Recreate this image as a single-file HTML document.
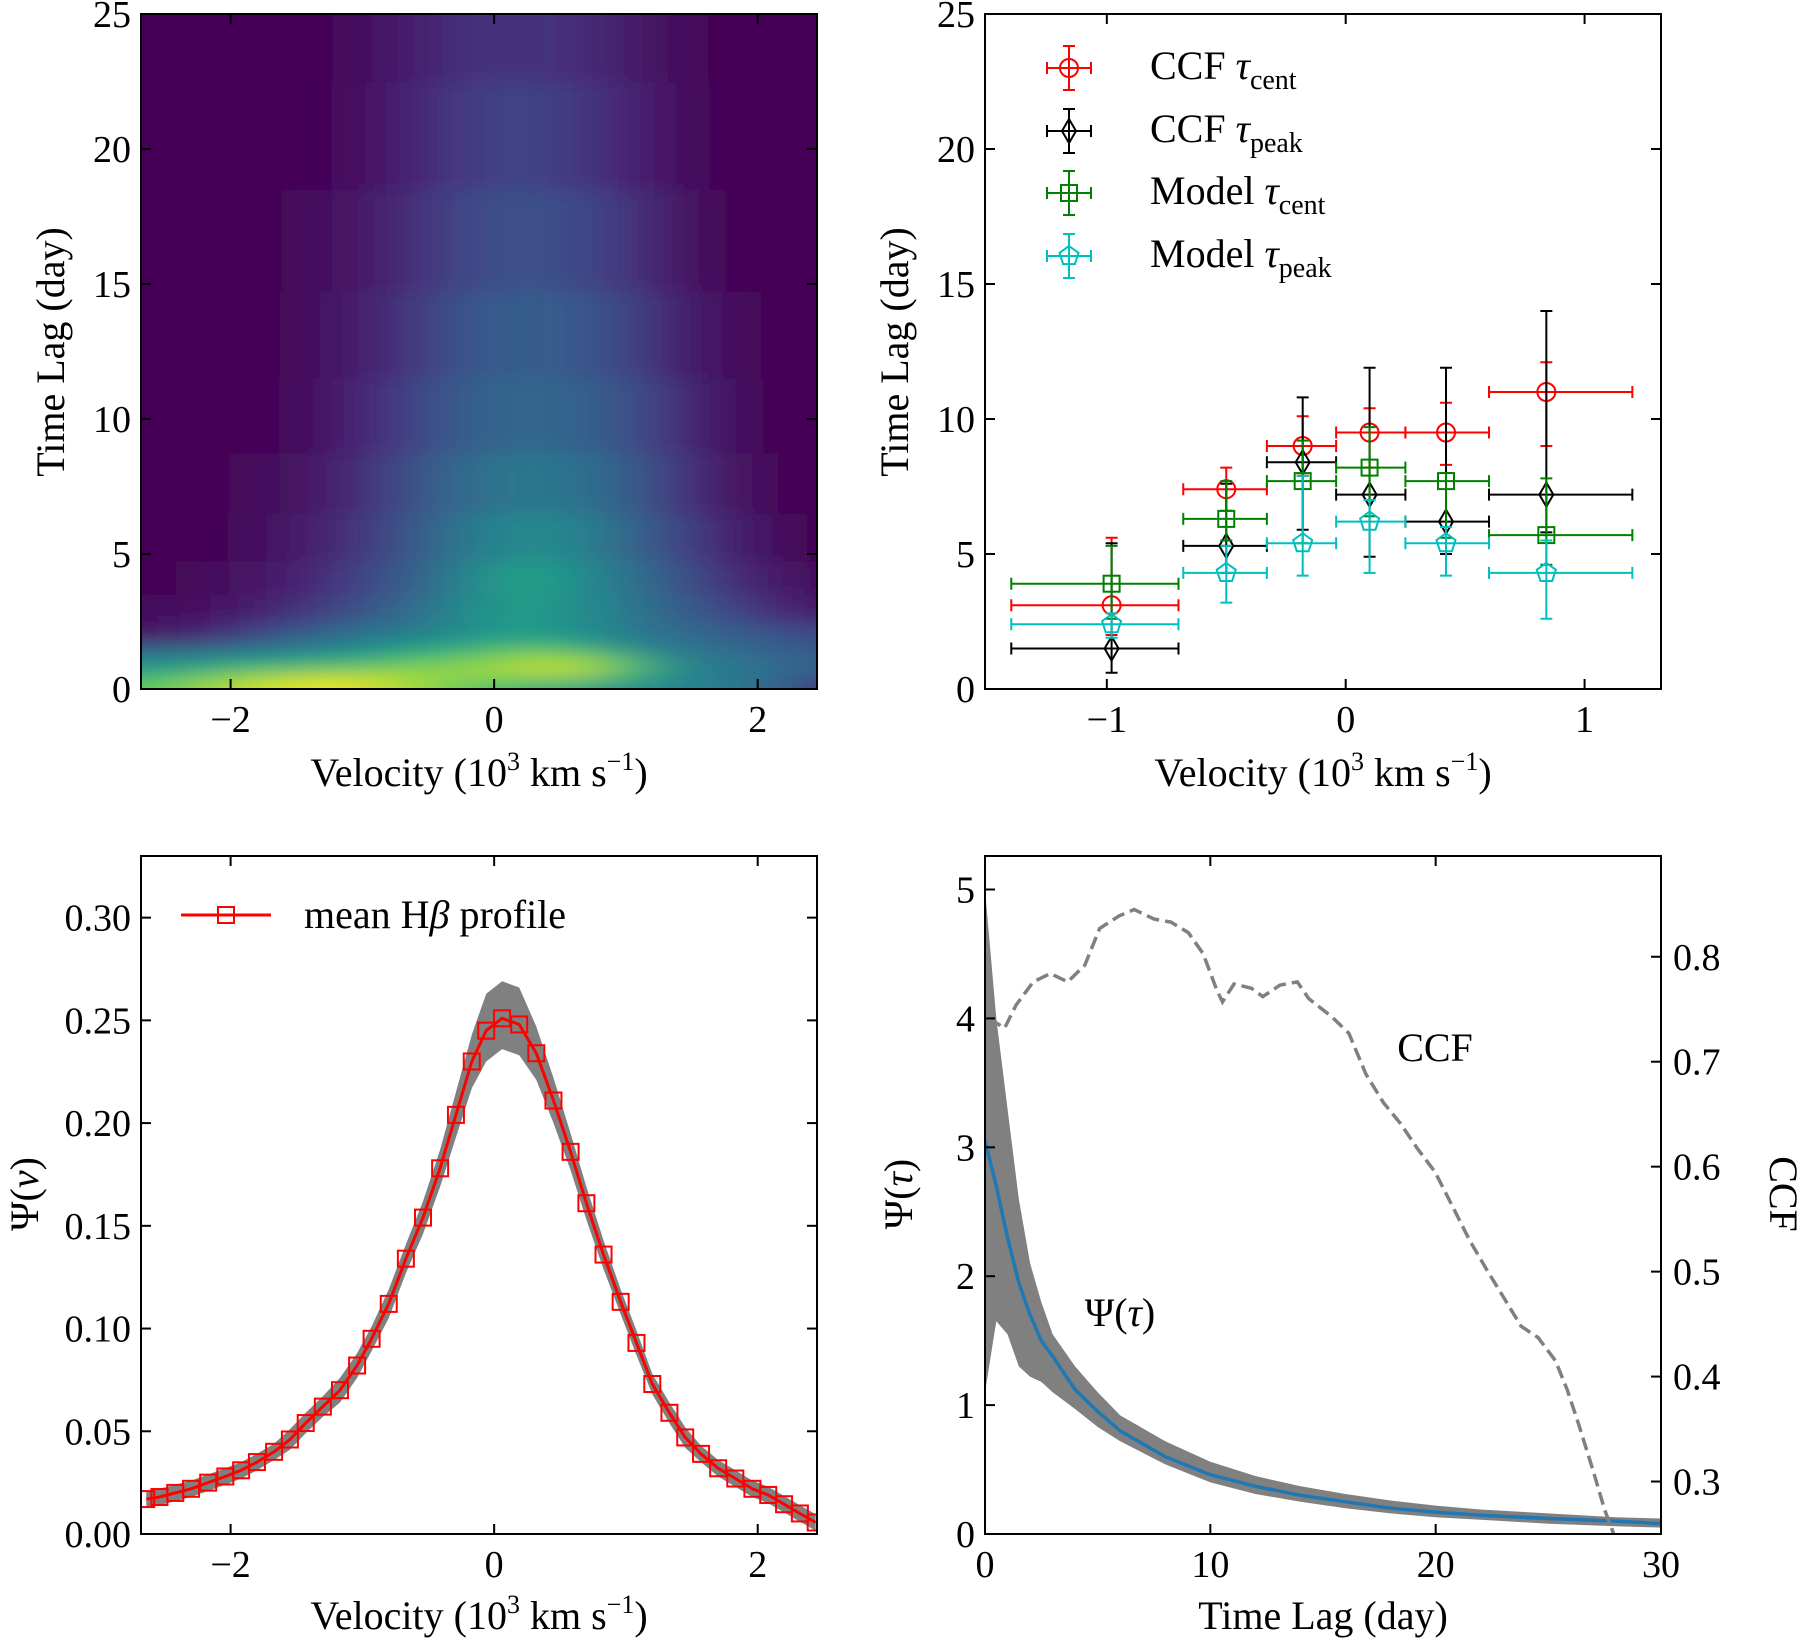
<!DOCTYPE html>
<html><head><meta charset="utf-8"><style>
body{margin:0;background:#fff}
svg{display:block}
text{font-family:"Liberation Serif",serif;fill:#000}
.tk{font-size:38px}
.lb{font-size:40px}
</style></head><body>
<svg id="fig" xmlns="http://www.w3.org/2000/svg" width="1800" height="1641" viewBox="0 0 1800 1641">
<defs>
<clipPath id="c1"><rect x="141" y="14" width="676" height="675"/></clipPath>
<clipPath id="c2"><rect x="985" y="14" width="676" height="675"/></clipPath>
<clipPath id="c3"><rect x="141" y="856" width="676" height="678"/></clipPath>
<clipPath id="c4"><rect x="985" y="856" width="676" height="678"/></clipPath>
<filter id="blur" x="-20%" y="-20%" width="140%" height="140%"><feGaussianBlur stdDeviation="30 9"/></filter>
</defs>
<g id="root"></g>
</svg>
<script>
// ---------- data: heatmap (velocity-delay map) ----------
const hmVel=[-2.6,-2.2,-1.8,-1.4,-1.0,-0.6,-0.2,0.2,0.6,1.0,1.4,1.8,2.2,2.45];
const hmLag=[0.2,0.6,1.0,1.4,2.0,3.0,4.0,5.5,7.5,10,13,16.5,20.5,24.5];
const hmVals=[
[0.75,0.85,0.92,0.98,0.95,0.85,0.75,0.65,0.6,0.5,0.45,0.4,0.3,0.15],
[0.6,0.7,0.78,0.82,0.85,0.85,0.85,0.88,0.9,0.7,0.45,0.4,0.35,0.3],
[0.45,0.5,0.55,0.6,0.65,0.75,0.8,0.88,0.9,0.75,0.45,0.4,0.35,0.3],
[0.35,0.38,0.42,0.45,0.5,0.6,0.65,0.75,0.7,0.5,0.4,0.35,0.3,0.28],
[0.05,0.1,0.2,0.3,0.38,0.42,0.5,0.55,0.5,0.42,0.35,0.3,0.25,0.2],
[0.02,0.04,0.08,0.15,0.25,0.35,0.48,0.55,0.5,0.4,0.3,0.2,0.1,0.05],
[0.0,0.02,0.05,0.1,0.2,0.3,0.45,0.58,0.5,0.38,0.25,0.12,0.05,0.02],
[0,0,0.03,0.07,0.15,0.28,0.4,0.48,0.45,0.33,0.2,0.08,0.02,0],
[0,0,0.02,0.05,0.12,0.25,0.35,0.4,0.38,0.3,0.15,0.05,0,0],
[0,0,0,0.03,0.1,0.2,0.3,0.34,0.32,0.25,0.12,0.03,0,0],
[0,0,0,0.02,0.08,0.16,0.27,0.3,0.28,0.2,0.08,0.02,0,0],
[0,0,0,0.02,0.06,0.13,0.22,0.25,0.23,0.15,0.05,0,0,0],
[0,0,0,0.01,0.04,0.1,0.18,0.2,0.17,0.1,0.03,0,0,0],
[0,0,0,0,0.03,0.08,0.14,0.15,0.13,0.07,0.02,0,0,0]];
// ---------- data: lags per velocity bin ----------
const binCenter=[-0.98,-0.5,-0.18,0.1,0.42,0.84];
const binLo=[-1.4,-0.68,-0.33,-0.04,0.25,0.6];
const binHi=[-0.7,-0.33,-0.04,0.25,0.6,1.2];
const ccfCent=[3.1,7.4,9.0,9.5,9.5,11.0];
const ccfCentLo=[2.0,6.6,7.9,8.2,8.3,9.0];
const ccfCentHi=[5.6,8.2,10.1,10.4,10.6,12.1];
const ccfPeak=[1.5,5.3,8.4,7.2,6.2,7.2];
const ccfPeakLo=[0.6,4.3,5.9,4.9,5.0,5.8];
const ccfPeakHi=[5.4,7.6,10.8,11.9,11.9,14.0];
const modCent=[3.9,6.3,7.7,8.2,7.7,5.7];
const modCentLo=[2.6,5.5,5.4,6.4,5.6,4.6];
const modCentHi=[5.3,7.7,9.2,9.7,8.0,7.8];
const modPeak=[2.4,4.3,5.4,6.2,5.4,4.3];
const modPeakLo=[1.9,3.2,4.2,4.3,4.2,2.6];
const modPeakHi=[2.8,5.3,7.9,7.0,6.0,5.5];
// ---------- data: mean profile ----------
const profVel=[-2.64,-2.54,-2.42,-2.3,-2.17,-2.04,-1.92,-1.8,-1.67,-1.55,-1.43,-1.3,-1.17,-1.04,-0.93,-0.8,-0.67,-0.54,-0.41,-0.29,-0.17,-0.06,0.06,0.19,0.32,0.45,0.58,0.7,0.83,0.96,1.08,1.2,1.33,1.45,1.57,1.7,1.83,1.96,2.08,2.2,2.32,2.44];
const profVal=[0.017,0.018,0.020,0.022,0.025,0.028,0.031,0.035,0.040,0.046,0.054,0.062,0.070,0.082,0.095,0.112,0.134,0.154,0.178,0.204,0.23,0.245,0.251,0.248,0.234,0.211,0.186,0.161,0.136,0.113,0.093,0.073,0.059,0.047,0.039,0.032,0.027,0.022,0.019,0.0145,0.010,0.0056];
const profErr=[0.004,0.004,0.004,0.004,0.004,0.004,0.004,0.004,0.004,0.005,0.005,0.005,0.006,0.006,0.006,0.007,0.007,0.008,0.009,0.011,0.013,0.015,0.015,0.015,0.013,0.011,0.009,0.008,0.007,0.006,0.006,0.005,0.005,0.005,0.004,0.004,0.004,0.004,0.004,0.004,0.004,0.004];
// ---------- data: transfer function & CCF ----------
const psiLag=[0,0.5,1,1.5,2,2.5,3,4,5,6,7,8,10,12,14,16,18,20,22,25,28,30];
const psiMed=[3.05,2.7,2.3,1.95,1.7,1.5,1.38,1.12,0.95,0.8,0.7,0.6,0.46,0.37,0.3,0.25,0.2,0.17,0.145,0.12,0.1,0.08];
const psiHi=[5.0,4.0,3.3,2.6,2.1,1.8,1.55,1.3,1.1,0.92,0.82,0.72,0.56,0.45,0.37,0.31,0.26,0.22,0.19,0.16,0.13,0.12];
const psiLo=[1.1,1.65,1.55,1.3,1.22,1.18,1.1,0.97,0.83,0.72,0.63,0.54,0.4,0.31,0.25,0.2,0.16,0.13,0.11,0.08,0.06,0.05];
const ccfLag=[0.2,0.87,1.38,2.14,2.9,3.67,4.43,5.09,5.96,6.62,7.49,8.25,9.02,9.68,10.29,10.54,11.05,11.82,12.33,13.09,13.86,14.37,15.38,16.15,16.91,17.68,18.44,19.2,19.97,20.73,21.5,22.26,23.03,23.79,24.55,25.32,25.83,26.34,26.98,27.5,27.9,28.3];
const ccfVal=[0.741,0.732,0.754,0.776,0.784,0.776,0.792,0.827,0.839,0.845,0.836,0.833,0.823,0.803,0.768,0.757,0.774,0.770,0.762,0.773,0.776,0.76,0.743,0.727,0.688,0.661,0.641,0.617,0.595,0.563,0.530,0.502,0.475,0.448,0.437,0.415,0.388,0.355,0.311,0.273,0.25,0.22];
// ---------- ticks ----------
const velTicks=[-2,0,2];
const velTickLabels=["\u22122","0","2"];
const lagTicks=[0,5,10,15,20,25];
const binTicks=[-1,0,1];
const binTickLabels=["\u22121","0","1"];
const profTicks=[0,0.05,0.10,0.15,0.20,0.25,0.30];
const profTickLabels=["0.00","0.05","0.10","0.15","0.20","0.25","0.30"];
const tfXTicks=[0,10,20,30];
const psiTicks=[0,1,2,3,4,5];
const ccfTicks=[0.3,0.4,0.5,0.6,0.7,0.8];

const NS="http://www.w3.org/2000/svg";
const root=document.getElementById('root');
function mk(tag,attrs,parent){const e=document.createElementNS(NS,tag);for(const k in attrs)e.setAttribute(k,attrs[k]);(parent||root).appendChild(e);return e;}
function lin(d0,d1,r0,r1){return v=>r0+(v-d0)/(d1-d0)*(r1-r0);}
const viridis=[[68,1,84],[72,36,117],[65,68,135],[53,95,141],[42,120,142],[33,145,140],[34,168,132],[68,191,112],[122,209,81],[189,223,38],[253,231,37]];
function vcol(t){t=Math.max(0,Math.min(1,t))*10;const i=Math.min(9,Math.floor(t)),f=t-i;const a=viridis[i],b=viridis[i+1];return 'rgb('+a.map((c,j)=>Math.round(c+(b[j]-c)*f)).join(',')+')';}

function frame(L,T,R,B,name){
  const f=mk('rect',{x:L,y:T,width:R-L,height:B-T,fill:'none',stroke:'#000','stroke-width':2});
  
  
}
function xTicks(g,vals,labels,sx,T,B,ly,top){
  vals.forEach((v,i)=>{
    const x=sx(v);
    const t=mk('line',{x1:x,x2:x,y1:B,y2:B-10,stroke:'#000','stroke-width':2},g);
    
    
    if(top){const t2=mk('line',{x1:x,x2:x,y1:T,y2:T+10,stroke:'#000','stroke-width':2},g);
    
    }
    const l=mk('text',{x:x,y:ly,'text-anchor':'middle',class:'tk'},g);l.textContent=labels[i];
    
    
  });
}
function yTicks(g,vals,labels,sy,L,R,right){
  vals.forEach((v,i)=>{
    const y=sy(v);
    const t=mk('line',{x1:L,x2:L+10,y1:y,y2:y,stroke:'#000','stroke-width':2},g);
    
    
    if(right){const t2=mk('line',{x1:R,x2:R-10,y1:y,y2:y,stroke:'#000','stroke-width':2},g);
    
    }
    const l=mk('text',{x:L-10,y:y+13,'text-anchor':'end',class:'tk'},g);l.textContent=labels[i];
    
    
  });
}
function label(g,txt,x,y,rot,name){
  const l=mk('text',{x:x,y:y,'text-anchor':'middle',class:'lb',transform:rot?`rotate(${rot} ${x} ${y})`:''},g);
  l.innerHTML=txt;
  
  
  return l;
}
const velLabel='Velocity (10<tspan dy="-16" font-size="26">3</tspan><tspan dy="16"> km s</tspan><tspan dy="-16" font-size="26">\u22121</tspan><tspan dy="16">)</tspan>';

// ===== Panel 1: heatmap =====
(function(){
  const L=141,R=817,T=14,B=689;
  const sx=lin(-2.68,2.45,L,R), sy=lin(0,25,B,T);
  const g=mk('g',{});
  const bg=mk('rect',{x:L,y:T,width:R-L,height:B-T,fill:'#440154'},g);
  
  
  const cg=mk('g',{'clip-path':'url(#c1)'},g);
  const hg=mk('g',{filter:'url(#blur)'},cg);
  const edgeX=[];for(let i=0;i<=hmVel.length;i++){edgeX.push(i===0?sx(hmVel[0])-100:i===hmVel.length?sx(hmVel[i-1])+100:(sx(hmVel[i-1])+sx(hmVel[i]))/2);}
  const edgeY=[];for(let j=0;j<=hmLag.length;j++){edgeY.push(j===0?sy(0)+40:j===hmLag.length?sy(hmLag[j-1])-80:(sy(hmLag[j-1])+sy(hmLag[j]))/2);}
  edgeY[1]=sy(0.4);
  hmLag.forEach((lag,j)=>{hmVel.forEach((v,i)=>{
    const c=mk('rect',{x:edgeX[i],y:edgeY[j+1],width:edgeX[i+1]-edgeX[i]+0.5,height:edgeY[j]-edgeY[j+1]+0.5,fill:vcol(hmVals[j][i])},hg);
    
    
  });});
  frame(L,T,R,B,'map');
  xTicks(g,velTicks,velTickLabels,sx,T,B,732,true);
  yTicks(g,lagTicks,lagTicks.map(String),sy,L,R,true);
  label(g,velLabel,479,786,0,'x-axis-title');
  label(g,'Time Lag (day)',64,352,-90,'y-axis-title');
})();

// ===== Panel 2: lags =====
(function(){
  const L=985,R=1661,T=14,B=689;
  const sx=lin(-1.51,1.32,L,R), sy=lin(0,25,B,T);
  const g=mk('g',{});
  const cg=mk('g',{'clip-path':'url(#c2)'},g);
  function marker(par,type,x,y,col,name){
    let m;
    if(type==='circle')m=mk('circle',{cx:x,cy:y,r:9},par);
    else if(type==='diamond')m=mk('polygon',{points:`${x},${y-12} ${x+7},${y} ${x},${y+12} ${x-7},${y}`},par);
    else if(type==='square')m=mk('rect',{x:x-8,y:y-8,width:16,height:16},par);
    else {const p=[];for(let k=0;k<5;k++){const a=-Math.PI/2+k*2*Math.PI/5;p.push((x+10*Math.cos(a)).toFixed(1)+','+(y+10*Math.sin(a)).toFixed(1));}m=mk('polygon',{points:p.join(' ')},par);}
    m.setAttribute('fill','none');m.setAttribute('stroke',col);m.setAttribute('stroke-width',2);
    
    
  }
  function series(name,type,col,vals,lo,hi){
    const sg=mk('g',{},cg);
    binCenter.forEach((c,i)=>{
      const x=sx(c),y=sy(vals[i]);
      const e=mk('path',{d:`M${sx(binLo[i])},${y}H${sx(binHi[i])}M${sx(binLo[i])},${y-6}v12M${sx(binHi[i])},${y-6}v12M${x},${sy(lo[i])}V${sy(hi[i])}M${x-6},${sy(lo[i])}h12M${x-6},${sy(hi[i])}h12`,stroke:col,'stroke-width':2,fill:'none'},sg);
      
      
      marker(sg,type,x,y,col,name+'-point');
    });
  }
  series('ccf-tau-cent','circle','#ff0000',ccfCent,ccfCentLo,ccfCentHi);
  series('ccf-tau-peak','diamond','#000000',ccfPeak,ccfPeakLo,ccfPeakHi);
  series('model-tau-cent','square','#008000',modCent,modCentLo,modCentHi);
  series('model-tau-peak','pentagon','#00bfbf',modPeak,modPeakLo,modPeakHi);
  frame(L,T,R,B,'lag-plot');
  xTicks(g,binTicks,binTickLabels,sx,T,B,732,true);
  yTicks(g,lagTicks,lagTicks.map(String),sy,L,R,true);
  label(g,velLabel,1323,786,0,'x-axis-title');
  label(g,'Time Lag (day)',908,352,-90,'y-axis-title');
  const leg=[['circle','#ff0000','CCF','cent'],['diamond','#000000','CCF','peak'],['square','#008000','Model','cent'],['pentagon','#00bfbf','Model','peak']];
  const lys=[68,131,193,256];
  leg.forEach((e,i)=>{
    const lg=mk('g',{},g);
    const x=1069,y=lys[i];
    const p=mk('path',{d:`M${x-22},${y}h44M${x-22},${y-6}v12M${x+22},${y-6}v12M${x},${y-22}v44M${x-6},${y-22}h12M${x-6},${y+22}h12`,stroke:e[1],'stroke-width':2,fill:'none'},lg);
    
    
    marker(lg,e[0],x,y,e[1],'legend-marker');
    const t=mk('text',{x:1150,y:y+11,class:'lb'},lg);
    t.innerHTML=e[2]+' <tspan font-style="italic">\u03c4</tspan><tspan dy="10" font-size="28">'+e[3]+'</tspan>';
    
    
  });
})();

// ===== Panel 3: mean profile =====
(function(){
  const L=141,R=817,T=856,B=1534;
  const sx=lin(-2.68,2.45,L,R), sy=lin(0,0.33,B,T);
  const g=mk('g',{});
  const cg=mk('g',{'clip-path':'url(#c3)'},g);
  let up='',dn='';
  profVel.forEach((v,i)=>{up+=(i?'L':'M')+sx(v).toFixed(1)+','+sy(profVal[i]+profErr[i]+(Math.abs(v-0.1)<0.2?0.003:0)).toFixed(1);});
  for(let i=profVel.length-1;i>=0;i--)dn+='L'+sx(profVel[i]).toFixed(1)+','+sy(profVal[i]-profErr[i]).toFixed(1);
  const band=mk('path',{d:up+dn+'Z',fill:'#808080'},cg);
  
  
  const line=mk('polyline',{points:profVel.map((v,i)=>sx(v).toFixed(1)+','+sy(profVal[i]).toFixed(1)).join(' '),fill:'none',stroke:'#ff0000','stroke-width':3},cg);
  
  
  profVel.forEach((v,i)=>{
    const m=mk('rect',{x:sx(v)-8,y:sy(profVal[i])-8,width:16,height:16,fill:'none',stroke:'#ff0000','stroke-width':2},cg);
    
    
  });
  frame(L,T,R,B,'profile');
  xTicks(g,velTicks,velTickLabels,sx,T,B,1577,true);
  yTicks(g,profTicks,profTickLabels,sy,L,R,true);
  label(g,velLabel,479,1629,0,'x-axis-title');
  label(g,'\u03a8(<tspan font-style="italic">v</tspan>)',38,1194,-90,'y-axis-title');
  const lg=mk('g',{},g);
  const ll=mk('path',{d:'M181,915h90',stroke:'#ff0000','stroke-width':3},lg);
  
  
  const lm=mk('rect',{x:218,y:907,width:16,height:16,fill:'none',stroke:'#ff0000','stroke-width':2},lg);
  
  
  const lt=mk('text',{x:304,y:928,class:'lb'},lg);lt.innerHTML='mean H<tspan font-style="italic">\u03b2</tspan> profile';
  
  
})();

// ===== Panel 4: transfer function =====
(function(){
  const L=985,R=1661,T=856,B=1534;
  const sx=lin(0,30,L,R), sy=lin(0,5.26,B,T), sy2=lin(0.25,0.896,B,T);
  const g=mk('g',{});
  const cg=mk('g',{'clip-path':'url(#c4)'},g);
  let d='';psiLag.forEach((t,i)=>{d+=(i?'L':'M')+sx(t).toFixed(1)+','+sy(psiHi[i]).toFixed(1);});
  for(let i=psiLag.length-1;i>=0;i--)d+='L'+sx(psiLag[i]).toFixed(1)+','+sy(psiLo[i]).toFixed(1);
  const band=mk('path',{d:d+'Z',fill:'#808080'},cg);
  
  
  const pl=mk('polyline',{points:psiLag.map((t,i)=>sx(t).toFixed(1)+','+sy(psiMed[i]).toFixed(1)).join(' '),fill:'none',stroke:'#1f77b4','stroke-width':3.5},cg);
  
  
  const cl=mk('polyline',{points:ccfLag.map((t,i)=>sx(t).toFixed(1)+','+sy2(ccfVal[i]).toFixed(1)).join(' '),fill:'none',stroke:'#808080','stroke-width':3.5,'stroke-dasharray':'13,6'},cg);
  
  
  frame(L,T,R,B,'transfer');
  xTicks(g,tfXTicks,tfXTicks.map(String),sx,T,B,1577,true);
  yTicks(g,psiTicks,psiTicks.map(String),sy,L,R,false);
  ccfTicks.forEach(v=>{
    const y=sy2(v);
    const t=mk('line',{x1:R,x2:R-10,y1:y,y2:y,stroke:'#000','stroke-width':2},g);
    
    
    const l=mk('text',{x:R+12,y:y+13,class:'tk'},g);l.textContent=v.toFixed(1);
    
    
  });
  label(g,'Time Lag (day)',1323,1629,0,'x-axis-title');
  label(g,'\u03a8(<tspan font-style="italic">\u03c4</tspan>)',912,1194,-90,'y-axis-title');
  label(g,'CCF',1770,1194,90,'right-axis-title');
  const a=mk('text',{x:1435,y:1061,'text-anchor':'middle',class:'lb'},g);a.textContent='CCF';
  
  
  const b=mk('text',{x:1120,y:1326,'text-anchor':'middle',class:'lb'},g);b.innerHTML='\u03a8(<tspan font-style="italic">\u03c4</tspan>)';
  
  
})();
</script>
</body></html>
